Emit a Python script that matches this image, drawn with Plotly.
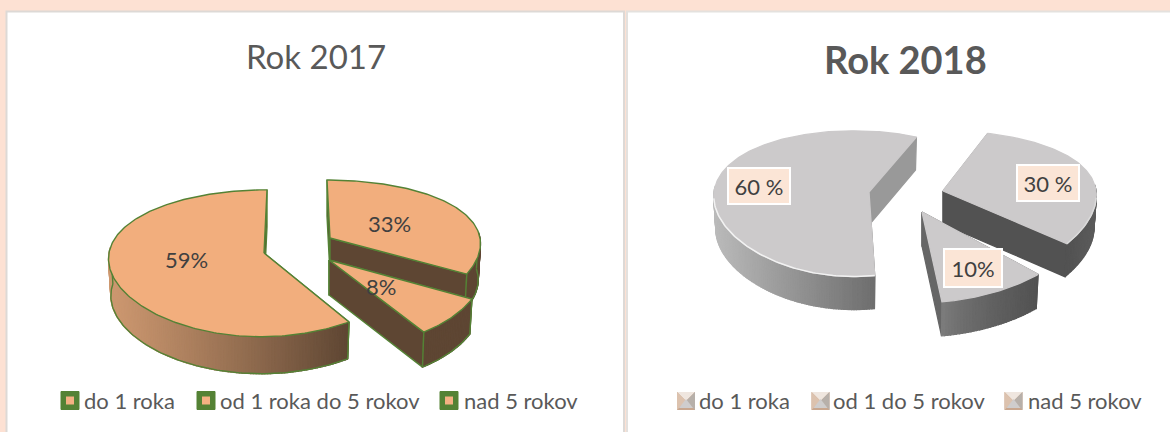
import math
import plotly.graph_objects as go

# ---- data ----
title_2017 = "Rok 2017"
categories_2017 = ["do 1 roka", "od 1 roka do 5 rokov", "nad 5 rokov"]
values_2017 = [59, 33, 8]
labels_2017 = ["59%", "33%", "8%"]

title_2018 = "Rok 2018"
categories_2018 = ["do 1 roka", "od 1 do 5 rokov", "nad 5 rokov"]
values_2018 = [60, 30, 10]
labels_2018 = ["60 %", "30 %", "10%"]

FONT = "Lato, Carlito, Calibri, sans-serif"
PEACH = "#FDE1D3"
TXT = "#595959"

fig = go.Figure()


def lerp(c1, c2, t):
    t = max(0, min(1, t))
    return "rgb(%d,%d,%d)" % tuple(round(a + (b - a) * t) for a, b in zip(c1, c2))


def project(th_deg, g, dy=0.0, sc=1.0):
    th = math.radians(th_deg)
    u, v = math.sin(th), math.cos(th)
    x = g["ax"] + g["a"] * sc * u / (1 + g.get("kx", 0.06) * v) + g.get("lean", 0) * v
    y = g["ty"] - g["b"] * v / (1 + g.get("k", 0.13) * v) + dy
    return x, y


def poly(xs, ys, fill, line=None, width=0.0):
    fig.add_trace(go.Scatter(
        x=xs, y=ys, mode="lines", fill="toself", fillcolor=fill,
        line=dict(color=line or fill, width=width if line else 1.3),
        hoverinfo="skip", showlegend=False))


def curve(xs, ys, color, width):
    fig.add_trace(go.Scatter(x=xs, y=ys, mode="lines", line=dict(color=color, width=width),
                             hoverinfo="skip", showlegend=False))


def slice3d(value, start, g, st):
    """value in percent, clockwise from start angle (deg from top)."""
    span = value * 3.6
    n = max(8, int(span))
    ths = [start + span * i / n for i in range(n + 1)]
    D = g["depth"]
    tx, ty = g["tx"], g["ty"]
    sc = 0.985
    edge = st.get("edge")
    ew = st.get("edge_w", 1.5)
    # inner walls (radial)
    for th, col in ((start, st["wall_start"]), (start + span, st["wall_end"])):
        px, py = project(th, g)
        qx, qy = project(th, g, D, sc)
        poly([tx, px, qx, tx, tx], [ty, py, qy, ty + D, ty], col, edge, ew)
    # outer wall in small quads for the shading
    vis = [t for t in ths if 85 <= (t % 360) <= 275]
    xs_all = [project(t, g)[0] for t in vis] or [0]
    x0, x1 = min(xs_all), max(xs_all)
    for t0, t1 in zip(vis[:-1], vis[1:]):
        a = project(t0, g)
        b = project(t1, g)
        c = project(t1, g, D, sc)
        d = project(t0, g, D, sc)
        f = ((a[0] + b[0]) / 2 - x0) / max(1, x1 - x0)
        col = lerp(st["rim_l"], st["rim_r"], f ** st.get("gamma", 1.0))
        poly([a[0], b[0], c[0], d[0], a[0]], [a[1], b[1], c[1], d[1], a[1]], col)
    if vis and edge:
        curve([project(t, g, D, sc)[0] for t in vis], [project(t, g, D, sc)[1] for t in vis], edge, ew)
        for t in (vis[0], vis[-1]):
            p, q = project(t, g), project(t, g, D, sc)
            curve([p[0], q[0]], [p[1], q[1]], edge, ew)
    # top face
    xs = [tx] + [project(t, g)[0] for t in ths] + [tx]
    ys = [ty] + [project(t, g)[1] for t in ths] + [ty]
    poly(xs, ys, st["top"], edge, ew)
    if st.get("bevel"):
        bev = [t for t in ths if 95 <= (t % 360) <= 265]
        if bev:
            curve([project(t, g)[0] for t in bev], [project(t, g)[1] for t in bev], st["bevel"], 1.5)


# ---- panels ----
shapes = [
    dict(type="rect", xref="x", yref="y", x0=-2, x1=1172, y0=-2, y1=434, fillcolor=PEACH, line_width=0, layer="below"),
    dict(type="rect", xref="x", yref="y", x0=6.5, x1=624, y0=11.5, y1=434, fillcolor="white",
         line=dict(color="#DDD9D6", width=2), layer="below"),
    dict(type="rect", xref="x", yref="y", x0=627, x1=1174, y0=11.5, y1=434, fillcolor="white",
         line=dict(color="#E4E1DE", width=2), layer="below"),
]

# ---- left pie ----
ORANGE = (205, 152, 112)
DARK = (94, 70, 51)
st_left = dict(top="#F2AE7D", edge="#548235", edge_w=1.4, wall_start="#5E4633", wall_end="#5E4633")
geo_2017 = [
    dict(ax=264, tx=264, ty=253, a=155, b=72, k=0.14, lean=3, depth=37),
    dict(ax=330, tx=330, ty=238, a=150, b=68.4, k=0.18, lean=-3, depth=36),
    dict(ax=329, tx=329, ty=260, a=153, b=76, k=0.13, lean=-10, depth=35),
]
start33 = 0
start8 = start33 + values_2017[1] * 3.6
start59 = start8 + values_2017[2] * 3.6
slice3d(values_2017[1], start33, geo_2017[1], dict(st_left, rim_l=DARK, rim_r=DARK))
slice3d(values_2017[2], start8, geo_2017[2], dict(st_left, rim_l=DARK, rim_r=DARK))
slice3d(values_2017[0], start59, geo_2017[0],
        dict(st_left, rim_l=ORANGE, rim_r=DARK, gamma=1.1, wall_start="#C4925F", wall_end="#5E4633"))

# ---- right pie ----
G1 = (186, 186, 186)
G2 = (110, 110, 110)
GD = (82, 82, 82)
st_right = dict(top="#CCCACB", bevel="#F2F2F2")
geo_2018 = [
    dict(ax=854, tx=869, ty=192, a=140, b=71, k=0.16, lean=0, depth=33),
    dict(ax=936, tx=943, ty=191, a=160, b=74, k=0.22, lean=0, depth=33),
    dict(ax=914, tx=922, ty=212, a=168, b=82, k=0.10, lean=0, depth=34),
]
slice3d(values_2018[1], 20, geo_2018[1], dict(st_right, rim_l=GD, rim_r=(92, 92, 92), wall_start="#999999", wall_end="#525252", bevel="#DADADA"))
slice3d(values_2018[0], 172, geo_2018[0], dict(st_right, rim_l=G1, rim_r=G2, wall_start="#6E6E6E", wall_end="#999999"))
slice3d(values_2018[2], 135, geo_2018[2], dict(st_right, rim_l=(125, 125, 125), rim_r=GD, gamma=0.7, wall_start="#5A5A5A", wall_end="#666666", bevel=None))

# ---- text ----
ann = []


def txt(x, y, s, size, color=TXT, anchor="center", bold=False):
    ann.append(dict(x=x, y=y, xref="x", yref="y", text="<b>%s</b>" % s if bold else s, showarrow=False,
                    xanchor=anchor, yanchor="middle", font=dict(family=FONT, size=size, color=color)))


def boxed(x, y, s, w, h):
    ann.append(dict(x=x, y=y, xref="x", yref="y", text=s, showarrow=False, width=w, height=h,
                    bgcolor="#FBE5D6", bordercolor="#FFFFFF", borderwidth=2, borderpad=0,
                    xanchor="center", yanchor="middle", font=dict(family=FONT, size=22, color="#404040")))


txt(316, 56, title_2017, 33)
txt(905, 59, title_2018, 38, TXT, bold=True)
for s, (x, y) in zip(labels_2017, [(186, 259), (389, 223), (381, 286)]):
    txt(x, y, s, 22, "#404040")
for s, (x, y, w, h) in zip(labels_2018, [(759, 186, 60, 34), (1048, 183, 60, 34), (973, 268, 56, 36)]):
    boxed(x, y, s, w, h)

# legend 2017
for s, tx0, mx in zip(categories_2017, [82, 217.5, 462], [70, 206, 449]):
    txt(tx0, 400, s, 22, TXT, "left")
    shapes.append(dict(type="rect", xref="x", yref="y", x0=mx - 9, x1=mx + 9, y0=391.5, y1=409.5,
                       fillcolor="#548235", line=dict(color="#548235", width=1)))
    shapes.append(dict(type="rect", xref="x", yref="y", x0=mx - 4, x1=mx + 4, y0=396.5, y1=404.5,
                       fillcolor="#F4B183", line_width=0))

# legend 2018
for s, tx0, mx in zip(categories_2018, [696.5, 830.5, 1026], [686, 820.5, 1013.5]):
    txt(tx0, 400, s, 22, TXT, "left")
    L, R, T, B = mx - 9, mx + 9, 392, 410
    cx, cy = (L + R) / 2, (T + B) / 2
    shapes.extend([
        dict(type="rect", xref="x", yref="y", x0=L, x1=R, y0=T, y1=B, fillcolor="#C9A78F", line_width=0),
        dict(type="path", xref="x", yref="y", path=f"M{L},{T}L{R},{T}L{cx},{cy}Z", fillcolor="#EFE6DF", line_width=0),
        dict(type="path", xref="x", yref="y", path=f"M{L},{T}L{L},{B}L{cx},{cy}Z", fillcolor="#DCC2AE", line_width=0),
        dict(type="path", xref="x", yref="y", path=f"M{R},{T}L{R},{B}L{cx},{cy}Z", fillcolor="#B7B0AA", line_width=0),
        dict(type="path", xref="x", yref="y", path=f"M{L+2},{B-2}L{R-2},{B-2}L{cx},{cy-2}Z", fillcolor="#CFCDCD", line_width=0),
    ])

fig.update_layout(
    width=1170, height=432, autosize=False, margin=dict(l=0, r=0, t=0, b=0),
    paper_bgcolor="white", plot_bgcolor="white", showlegend=False,
    xaxis=dict(range=[0, 1170], visible=False, fixedrange=True),
    yaxis=dict(range=[432, 0], visible=False, fixedrange=True),
    shapes=shapes, annotations=ann,
)
fig.write_html("out.html", config=dict(displayModeBar=False),
               post_script="document.body.style.margin='0';document.body.style.overflow='hidden';")
